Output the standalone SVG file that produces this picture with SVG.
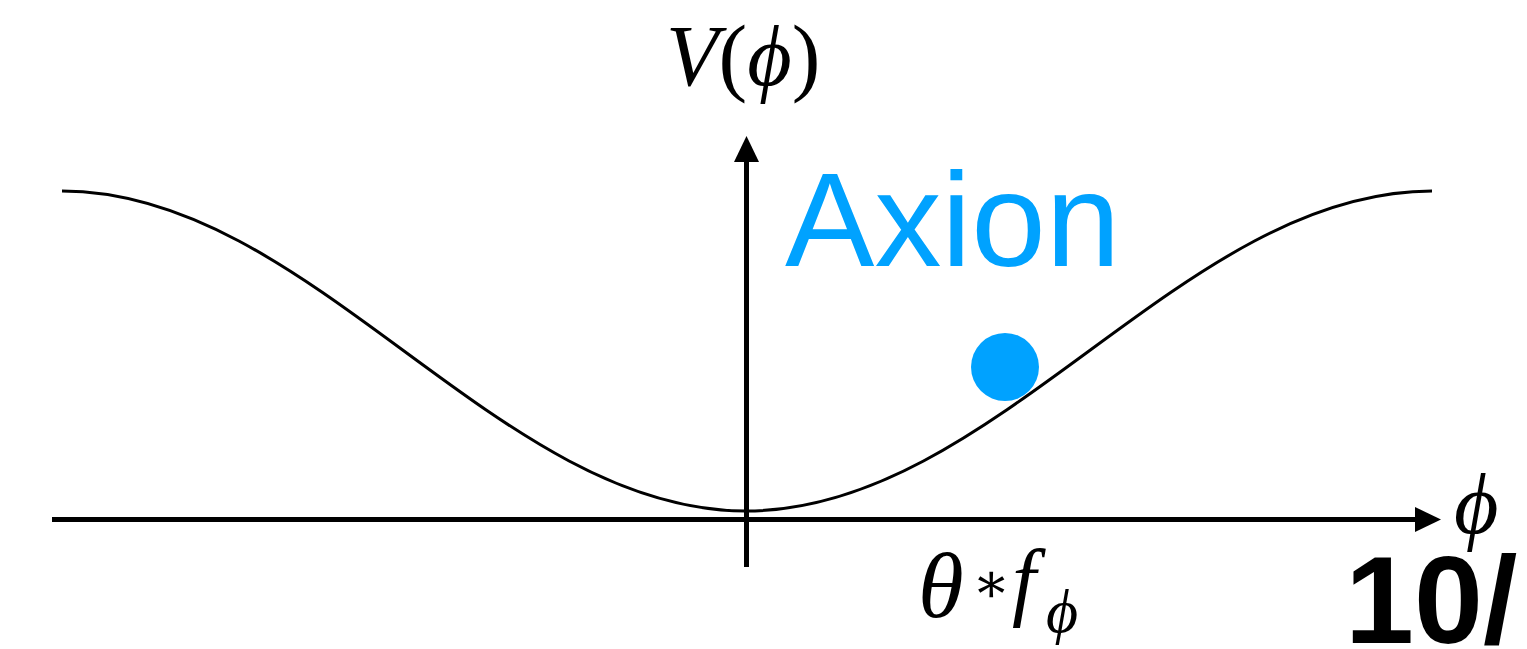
<svg xmlns="http://www.w3.org/2000/svg" width="1527" height="649" viewBox="0 0 1527 649">
<style>
.axis{stroke:#000;stroke-width:5;fill:none}
.curve{stroke:#000;stroke-width:3;fill:none}
.math{font-family:"Liberation Serif","DejaVu Serif",serif;fill:#000}
.it{font-style:italic}
</style>
<rect width="1527" height="649" fill="#fff"/>
<g id="connectors">
<line class="axis" x1="52" y1="519.5" x2="1418" y2="519.5"/>
<polygon points="1415,507 1441,519.5 1415,532" fill="#000"/>
<line class="axis" x1="746.5" y1="567" x2="746.5" y2="160"/>
<polygon points="734,162 746.5,136 759,162" fill="#000"/>
</g>
<g id="curve">
<path class="curve" d="M62,191 C311,191 497,511 746,511 C996,511 1182,191 1432,191"/>
</g>
<g id="axion">
<circle cx="1005" cy="367" r="34" fill="#00a2ff"/>
<text x="785" y="266" font-family="Liberation Sans, Arial, sans-serif" font-size="134" fill="#00a2ff">Axion</text>
</g>
<g id="labels">
<text class="math" x="666" y="85" font-size="86"><tspan class="it">V</tspan>(<tspan class="it">ϕ</tspan>)</text>
<text class="math it" x="1454" y="533" font-size="86">ϕ</text>
<text class="math it" x="918" y="617" font-size="93">θ</text>
<text class="math" x="972" y="602" font-size="56">∗</text>
<text class="math it" x="1012" y="609" font-size="86">f</text>
<text class="math it" x="1046" y="632" font-size="62">ϕ</text>
<text x="1345" y="643" font-family="Liberation Sans, Arial, sans-serif" font-weight="bold" font-size="124" fill="#000">10/</text>
</g>
</svg>
